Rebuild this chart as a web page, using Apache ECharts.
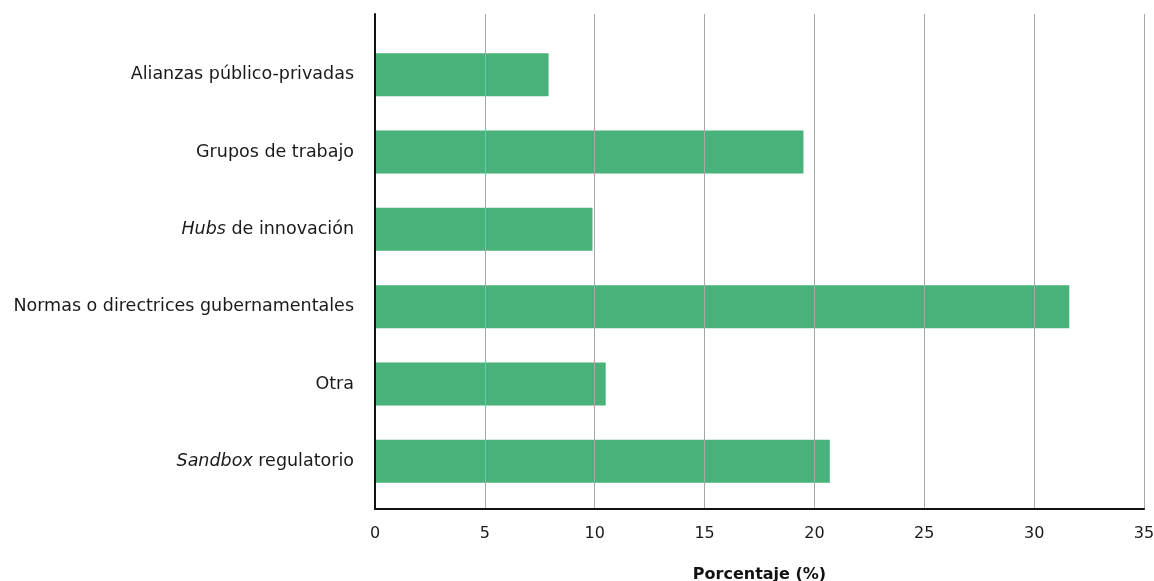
<!DOCTYPE html>
<html><head><meta charset="utf-8">
<script src="https://cdn.jsdelivr.net/npm/echarts@6/dist/echarts.min.js"></script>
<style>html,body{margin:0;padding:0;background:#fff}#c{width:1154px;height:581px}</style>
</head><body><div id="c"></div>
<script>
const categories = ['Alianzas público-privadas','Grupos de trabajo','Hubs de innovación','Normas o directrices gubernamentales','Otra','Sandbox regulatorio'];
const values = [7.9, 19.5, 9.9, 31.6, 10.5, 20.7];
const xTicks = [0, 5, 10, 15, 20, 25, 30, 35];
const axisTitle = 'Porcentaje (%)';

const FONT = '"DejaVu Sans", sans-serif';
const chart = echarts.init(document.getElementById('c'));
function fmtLabel(v){
  if (v.indexOf('Hubs') === 0) return '{i|Hubs}{n| de innovación}';
  if (v.indexOf('Sandbox') === 0) return '{i|Sandbox}{n| regulatorio}';
  return '{n|' + v + '}';
}
chart.setOption({
  animation: false,
  grid: [
    {left: 375, right: 10, top: 14, bottom: 72, outerBoundsMode: 'none', containLabel: false},
    {left: 375, right: 10, top: 36, height: 464, outerBoundsMode: 'none', containLabel: false}
  ],
  xAxis: [
    {gridIndex: 0, type: 'value', min: xTicks[0], max: xTicks[xTicks.length-1], interval: 5, z: 5,
     axisLine: {show: true, lineStyle: {color: '#111', width: 2}},
     axisTick: {show: false},
     splitLine: {show: true, lineStyle: {color: '#a8a8a8', width: 1}},
     axisLabel: {color: '#1a1a1a', fontFamily: FONT, fontSize: 16, margin: 17},
     name: axisTitle, nameLocation: 'middle', nameGap: 58,
     nameTextStyle: {color: '#111', fontFamily: FONT, fontSize: 16, fontWeight: 'bold'}},
    {gridIndex: 1, type: 'value', min: xTicks[0], max: xTicks[xTicks.length-1], show: false,
     splitLine: {show: false}}
  ],
  yAxis: [
    {gridIndex: 0, type: 'value', min: 0, max: 1, z: 5,
     axisLine: {show: true, lineStyle: {color: '#111', width: 2}},
     axisTick: {show: false}, axisLabel: {show: false}, splitLine: {show: false}},
    {gridIndex: 1, type: 'category', inverse: true, data: categories,
     axisLine: {show: false}, axisTick: {show: false}, splitLine: {show: false},
     axisLabel: {margin: 21, formatter: fmtLabel,
       rich: {
         n: {color: '#1a1a1a', fontFamily: FONT, fontSize: 17.5},
         i: {color: '#1a1a1a', fontFamily: FONT, fontSize: 17.5, fontStyle: 'italic'}
       }}}
  ],
  series: [{
    type: 'bar', xAxisIndex: 1, yAxisIndex: 1, data: values, barWidth: 43, z: 2,
    itemStyle: {color: '#48b27a'}
  }]
});
</script></body></html>
